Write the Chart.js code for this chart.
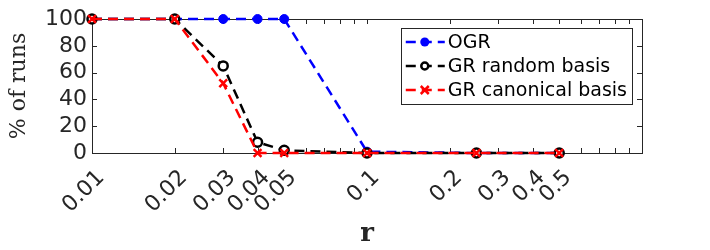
<!DOCTYPE html>
<html>
<head>
<meta charset="utf-8">
<script src="https://cdn.jsdelivr.net/npm/chart.js"></script>
<style>
  body { margin: 0; background: #fff; }
</style>
</head>
<body>
<canvas id="chart" width="710" height="250"></canvas>
<script>
// values
const rValues = [0.01, 0.02, 0.03, 0.04, 0.05, 0.1, 0.25, 0.5];
const ogrRuns = [100, 100, 100, 100, 100, 1, 0, 0];
const grRandomRuns = [100, 100, 65, 8, 2, 0, 0, 0];
const grCanonicalRuns = [100, 100, 52, 0, 0, 0, 0, 0];

const xTickValues = [0.01, 0.02, 0.03, 0.04, 0.05, 0.06, 0.07, 0.08, 0.09,
                     0.1, 0.2, 0.3, 0.4, 0.5, 0.6, 0.7, 0.8, 0.9, 1];
const xLabeledValues = [0.01, 0.02, 0.03, 0.04, 0.05, 0.1, 0.2, 0.3, 0.4, 0.5];
const xTickLabels = ['0.01', '0.02', '0.03', '0.04', '0.05', '0.1', '0.2', '0.3', '0.4', '0.5'];
const yTickValues = [0, 20, 40, 60, 80, 100];

const axisColor = '#262626';
const tickFont = { family: 'DejaVu Sans', size: 22 };

function toPoints(ys) {
    return rValues.map((x, i) => ({ x: x, y: ys[i] }));
}

function drawMarker(ctx, style, color, x, y) {
    ctx.save();
    ctx.strokeStyle = color;
    ctx.fillStyle = color;
    ctx.setLineDash([]);
    if (style === 'dot') {
        ctx.beginPath();
        ctx.arc(x, y, 4.5, 0, Math.PI * 2);
        ctx.fill();
    } else if (style === 'ring') {
        ctx.lineWidth = 2.5;
        ctx.fillStyle = '#fff';
        ctx.beginPath();
        ctx.arc(x, y, 3.5, 0, Math.PI * 2);
        ctx.fill();
        ctx.stroke();
    } else {
        ctx.lineWidth = 2.5;
        ctx.beginPath();
        ctx.moveTo(x - 4, y - 4); ctx.lineTo(x + 4, y + 4);
        ctx.moveTo(x + 4, y - 4); ctx.lineTo(x - 4, y + 4);
        ctx.stroke();
    }
    ctx.restore();
}

// box, inward tick marks and the boxed legend, MATLAB style
const framePlugin = {
    id: 'frame',
    beforeDatasetsDraw(chart) {
        const ctx = chart.ctx;
        const a = chart.chartArea;
        const xs = chart.scales.x, ys = chart.scales.y;
        ctx.save();
        ctx.strokeStyle = axisColor;
        ctx.lineWidth = 1;
        ctx.strokeRect(a.left + 0.5, a.top + 0.5, a.right - a.left, a.bottom - a.top);
        ctx.beginPath();
        xTickValues.forEach(v => {
            const px = Math.round(xs.getPixelForValue(v)) + 0.5;
            ctx.moveTo(px, a.bottom); ctx.lineTo(px, a.bottom - 5);
            ctx.moveTo(px, a.top); ctx.lineTo(px, a.top + 5);
        });
        yTickValues.forEach(v => {
            const py = Math.round(ys.getPixelForValue(v)) + 0.5;
            ctx.moveTo(a.left, py); ctx.lineTo(a.left + 5, py);
            ctx.moveTo(a.right, py); ctx.lineTo(a.right - 5, py);
        });
        ctx.stroke();
        ctx.restore();
    },
    afterDraw(chart) {
        const ctx = chart.ctx;
        const a = chart.chartArea;
        ctx.save();
        // legend
        const sets = chart.data.datasets;
        ctx.font = '19px "DejaVu Sans"';
        const textW = Math.max(...sets.map(d => ctx.measureText(d.label).width));
        const boxW = textW + 52;
        const boxH = 76;
        const bx = a.right - 10 - boxW;
        const by = a.top + 9;
        ctx.fillStyle = '#fff';
        ctx.fillRect(bx, by, boxW, boxH);
        ctx.strokeStyle = axisColor;
        ctx.lineWidth = 1;
        ctx.strokeRect(Math.round(bx) + 0.5, by + 0.5, Math.round(boxW), boxH);
        sets.forEach((d, i) => {
            const cy = by + 14 + i * 24;
            ctx.strokeStyle = d.borderColor;
            ctx.lineWidth = 2.5;
            ctx.setLineDash([10, 6]);
            ctx.beginPath();
            ctx.moveTo(bx + 5, cy); ctx.lineTo(bx + 44, cy);
            ctx.stroke();
            ctx.setLineDash([]);
            drawMarker(ctx, d.markerKind, d.borderColor, bx + 24, cy);
            ctx.fillStyle = '#000';
            ctx.textBaseline = 'middle';
            ctx.textAlign = 'left';
            ctx.fillText(d.label, bx + 47, cy + 1);
        });
        ctx.restore();
    }
};

const lineBase = {
    borderWidth: 2.5,
    borderDash: [10, 6],
    fill: false,
    tension: 0,
    clip: false
};

new Chart(document.getElementById('chart'), {
    type: 'line',
    data: {
        datasets: [
            Object.assign({}, lineBase, {
                label: 'OGR',
                markerKind: 'dot',
                data: toPoints(ogrRuns),
                borderColor: '#0000ff',
                backgroundColor: '#0000ff',
                pointStyle: 'circle',
                pointRadius: 4.5,
                pointBorderWidth: 1,
                order: 3
            }),
            Object.assign({}, lineBase, {
                label: 'GR random basis',
                markerKind: 'ring',
                data: toPoints(grRandomRuns),
                borderColor: '#000000',
                backgroundColor: '#ffffff',
                pointStyle: 'circle',
                pointRadius: 4.5,
                pointBorderWidth: 2.5,
                order: 2
            }),
            Object.assign({}, lineBase, {
                label: 'GR canonical basis',
                markerKind: 'cross',
                data: toPoints(grCanonicalRuns),
                borderColor: '#ff0000',
                backgroundColor: '#ff0000',
                pointStyle: 'crossRot',
                pointRadius: 5.5,
                pointBorderWidth: 2.5,
                order: 1
            })
        ]
    },
    options: {
        responsive: false,
        animation: false,
        devicePixelRatio: 1,
        layout: { padding: { top: 19, right: 68, left: 0, bottom: 0 } },
        plugins: {
            legend: { display: false },
            tooltip: { enabled: false }
        },
        scales: {
            x: {
                type: 'logarithmic',
                min: 0.01,
                max: 1,
                afterBuildTicks: scale => {
                    scale.ticks = xTickValues.map(v => ({ value: v }));
                },
                afterFit: scale => { scale.height = 97; },
                grid: { display: false, drawTicks: false },
                border: { display: false },
                ticks: {
                    autoSkip: false,
                    minRotation: 45,
                    maxRotation: 45,
                    padding: 12,
                    labelOffset: 9,
                    color: axisColor,
                    font: tickFont,
                    callback: value => {
                        const idx = xLabeledValues.findIndex(v => Math.abs(v - value) < 1e-9);
                        return idx >= 0 ? xTickLabels[idx] : '';
                    }
                },
                title: {
                    display: true,
                    text: 'r',
                    color: axisColor,
                    font: { family: 'DejaVu Serif', size: 26, weight: 'bold' },
                    padding: { top: 0, bottom: 0 }
                }
            },
            y: {
                min: 0,
                max: 100,
                afterBuildTicks: scale => {
                    scale.ticks = yTickValues.map(v => ({ value: v }));
                },
                afterFit: scale => { scale.width = 92; },
                grid: { display: false, drawTicks: false },
                border: { display: false },
                ticks: {
                    autoSkip: false,
                    padding: 5,
                    color: axisColor,
                    font: tickFont
                },
                title: {
                    display: true,
                    text: '% of runs',
                    color: axisColor,
                    font: { family: 'DejaVu Serif', size: 22 },
                    padding: { top: 6, bottom: 0 }
                }
            }
        }
    },
    plugins: [framePlugin]
});
</script>
</body>
</html>
